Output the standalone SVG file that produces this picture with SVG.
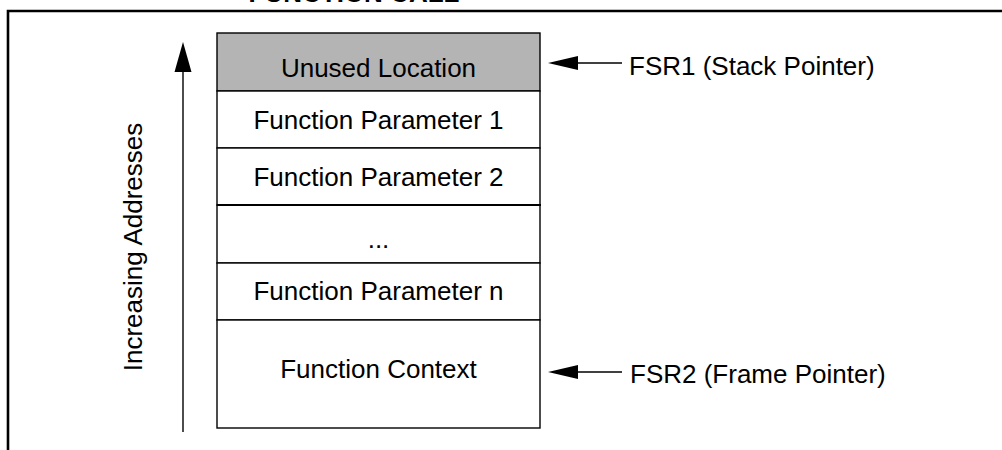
<svg xmlns="http://www.w3.org/2000/svg" width="1002" height="450" viewBox="0 0 1002 450">
<style>
.t{font-family:"Liberation Sans",Arial,sans-serif;font-size:26px;fill:#000}
.c{text-anchor:middle}
.cell{stroke:#000;stroke-width:1.4;fill:#fff}
.ln{stroke:#000;stroke-width:1.4;fill:none}
.ah{fill:#000;stroke:none}
</style>
<rect width="1002" height="450" fill="#fff"/>
<text class="t c" x="354" y="2" style="font-weight:bold">FUNCTION CALL</text>
<path d="M8,450 V11 H1002" fill="none" stroke="#000" stroke-width="2.6"/>
<g id="stack">
<g id="unused"><rect class="cell" x="217" y="33" width="323" height="58" style="fill:#b4b4b4"/><text class="t c" x="378.5" y="77">Unused Location</text></g>
<g id="param1"><rect class="cell" x="217" y="91" width="323" height="57"/><text class="t c" x="378.5" y="129">Function Parameter 1</text></g>
<g id="param2"><rect class="cell" x="217" y="148" width="323" height="57"/><text class="t c" x="378.5" y="186">Function Parameter 2</text></g>
<g id="ellipsis"><rect class="cell" x="217" y="205" width="323" height="58"/><text class="t c" x="378.5" y="248">...</text></g>
<g id="paramn"><rect class="cell" x="217" y="263" width="323" height="57"/><text class="t c" x="378.5" y="300">Function Parameter n</text></g>
<g id="context"><rect class="cell" x="217" y="320" width="323" height="108"/><text class="t c" x="378.5" y="378">Function Context</text></g>
<line x1="217" y1="205" x2="541" y2="205" stroke="#000" stroke-width="2.2"/>
</g>
<g id="labels">
<text class="t" x="629" y="75">FSR1 (Stack Pointer)</text>
<text class="t" x="630" y="383">FSR2 (Frame Pointer)</text>
<text class="t c" transform="translate(142,247) rotate(-90)" x="0" y="0">Increasing Addresses</text>
</g>
<g id="connectors">
<line class="ln" x1="183" y1="70" x2="183" y2="432"/>
<polygon class="ah" points="183,42 174.5,72 191.5,72"/>
<line class="ln" x1="576" y1="63" x2="622" y2="63"/>
<polygon class="ah" points="548,63 578,56 578,70"/>
<line class="ln" x1="576" y1="372" x2="622" y2="372"/>
<polygon class="ah" points="548,372 578,365 578,379"/>
</g>
</svg>
